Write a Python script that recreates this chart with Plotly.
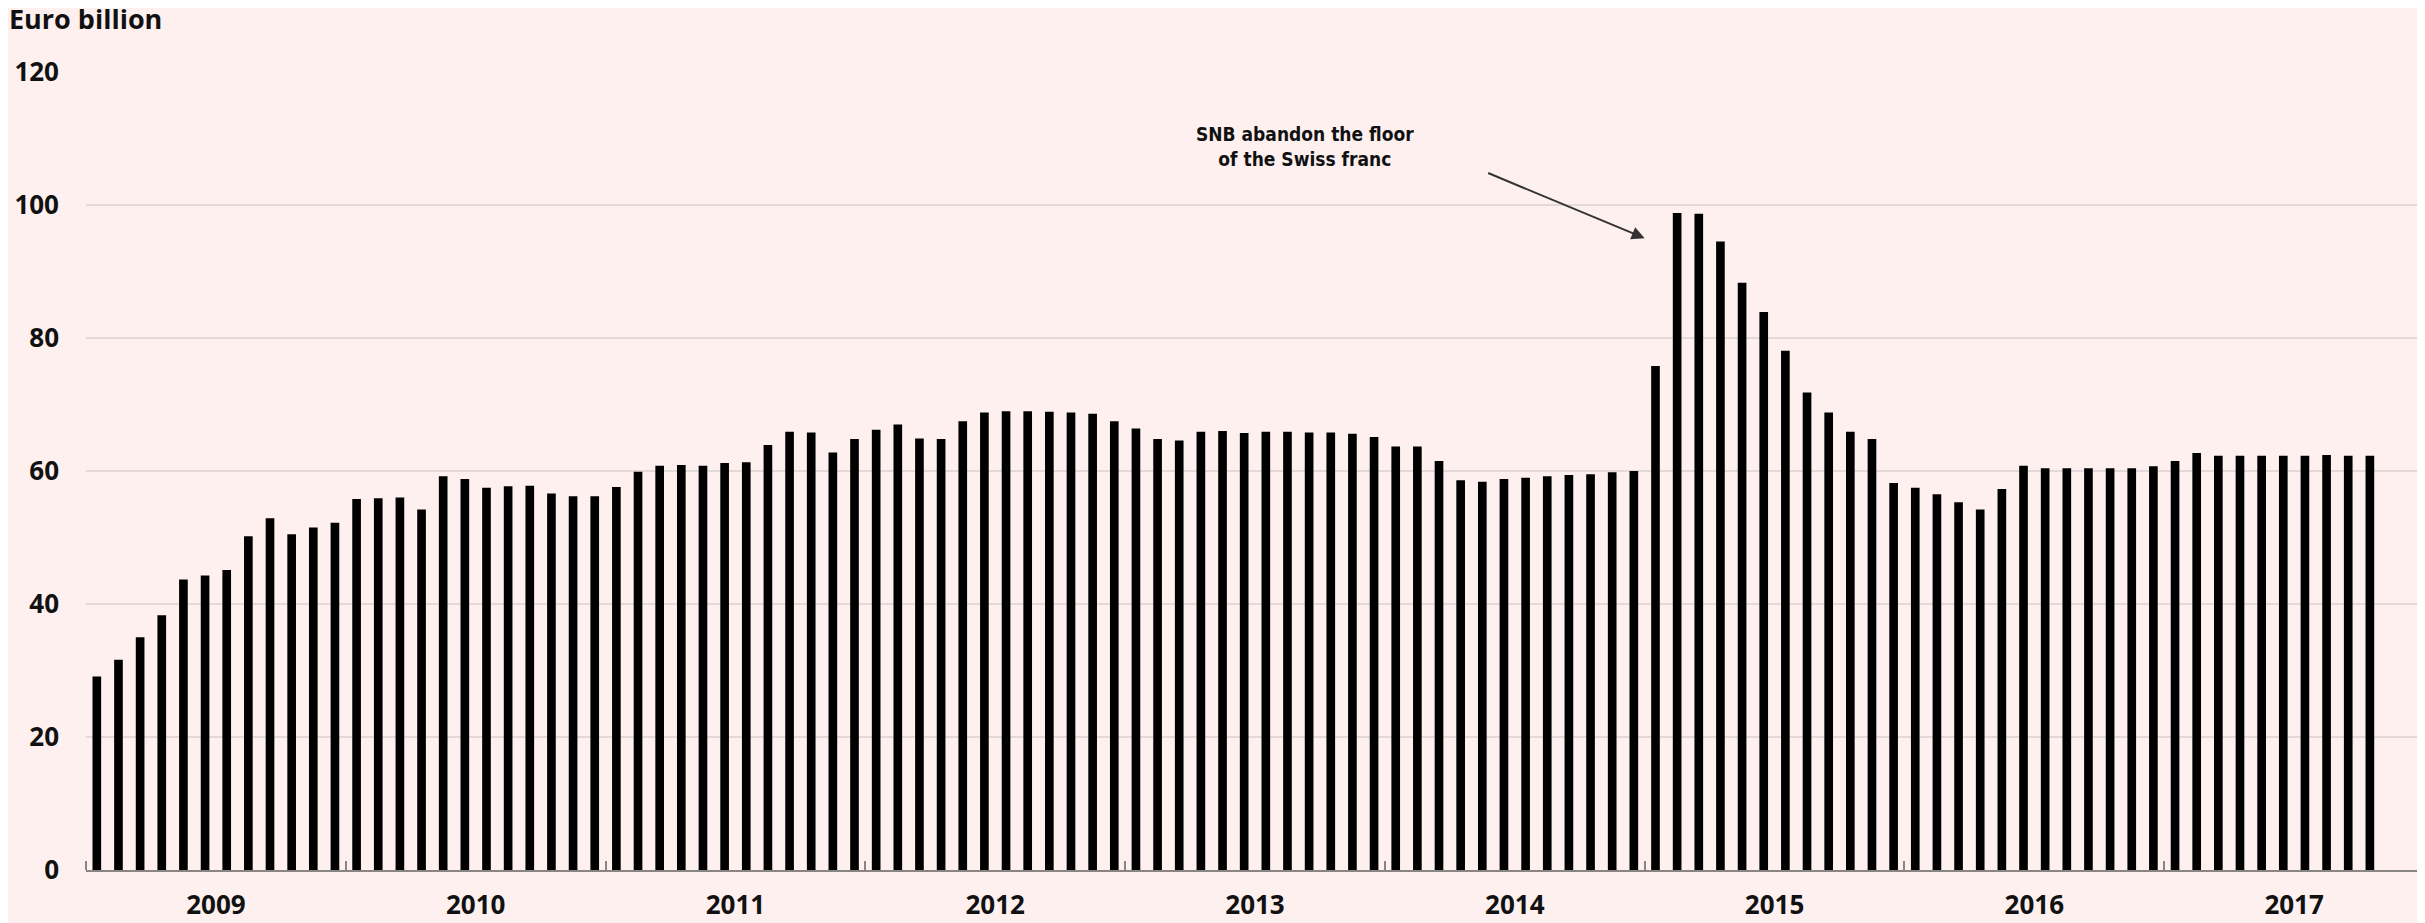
import plotly.graph_objects as go
import numpy as np

# Monthly data, Jan 2009 - Oct 2017 (Euro billion)
months = [f"{y}-{m:02d}" for y in range(2009, 2018) for m in range(1, 13)][:106]
values = [
    29.1, 31.6, 35.0, 38.3, 43.7, 44.3, 45.1, 50.2, 52.9, 50.5, 51.5, 52.2,   # 2009
    55.8, 55.9, 56.0, 54.2, 59.2, 58.8, 57.5, 57.7, 57.8, 56.6, 56.2, 56.2,   # 2010
    57.6, 59.9, 60.8, 60.9, 60.8, 61.2, 61.3, 63.9, 65.9, 65.8, 62.8, 64.8,   # 2011
    66.2, 67.0, 64.9, 64.8, 67.5, 68.8, 69.0, 69.0, 68.9, 68.8, 68.6, 67.5,   # 2012
    66.4, 64.8, 64.6, 65.9, 66.0, 65.7, 65.9, 65.9, 65.8, 65.8, 65.6, 65.1,   # 2013
    63.7, 63.7, 61.5, 58.6, 58.4, 58.8, 59.0, 59.2, 59.4, 59.5, 59.8, 60.0,   # 2014
    75.8, 98.8, 98.7, 94.5, 88.3, 83.9, 78.1, 71.8, 68.8, 65.9, 64.8, 58.2,   # 2015
    57.5, 56.5, 55.3, 54.2, 57.3, 60.8, 60.4, 60.4, 60.4, 60.4, 60.4, 60.7,   # 2016
    61.5, 62.7, 62.3, 62.3, 62.3, 62.3, 62.3, 62.4, 62.3, 62.3,               # 2017
]
years = [str(y) for y in range(2009, 2018)]
y_ticks = [0, 20, 40, 60, 80, 100, 120]

x = np.arange(len(months))
n_years = len(years)
year_centers = [12 * k + 5.5 for k in range(n_years)]
year_bounds = [12 * k - 0.5 for k in range(n_years + 1)]

bg = "#fdf0ef"
font_main = "'Open Sans', Lato, sans-serif"
W, H = 2417, 915  # page body has an 8px margin

fig = go.Figure()
fig.add_trace(go.Bar(
    x=x, y=values, customdata=months,
    marker=dict(color="#000000", line=dict(width=0)),
    hovertemplate="%{customdata}: %{y}<extra></extra>",
))

fig.update_layout(
    width=W, height=H,
    paper_bgcolor=bg, plot_bgcolor=bg,
    margin=dict(l=78, r=1, t=64, b=53),
    bargap=0.6,
    showlegend=False,
    font=dict(family=font_main, size=26, color="#111111"),
    title=dict(
        text="<b>Euro billion</b>",
        font=dict(family=font_main, size=27, color="#111111"),
        xref="container", yref="container",
        x=1 / W, xanchor="left",
        y=1 - 2 / H, yanchor="top",
    ),
)

fig.update_xaxes(
    range=[-0.5, 12 * n_years - 0.5],
    tickmode="array", tickvals=year_centers,
    ticktext=[f"<b>{y}</b>" for y in years],
    ticks="", showgrid=False, zeroline=False,
    showline=True, linecolor="#8a8585", linewidth=1.5,
    ticklabelstandoff=11,
    tickfont=dict(family=font_main, size=26, color="#111111"),
    minor=dict(tickmode="array", tickvals=year_bounds, ticks="inside",
               ticklen=9, tickcolor="#8a8585", tickwidth=1.5, showgrid=False),
)

fig.update_yaxes(
    range=[0, 120],
    tickmode="array", tickvals=y_ticks,
    ticktext=[f"<b>{v}</b>" for v in y_ticks],
    showgrid=True, gridcolor="#e3d9d9", gridwidth=1.5,
    zeroline=False, showline=False, ticks="",
    ticklabelstandoff=26,
    tickfont=dict(family=font_main, size=26, color="#111111"),
)

note_font = "'Liberation Sans Narrow', 'DejaVu Sans Condensed', 'Arial Narrow', sans-serif"
fig.add_annotation(
    x=71.5, y=95.0, ax=64.2, ay=104.9,
    xref="x", yref="y", axref="x", ayref="y",
    text="", showarrow=True,
    arrowhead=2, arrowsize=1.3, arrowwidth=2, arrowcolor="#333333",
)
fig.add_annotation(
    x=55.8, y=108.8, xref="x", yref="y",
    text="<b>SNB abandon the floor<br>of the Swiss franc</b>",
    showarrow=False, align="center",
    font=dict(family=note_font, size=19, color="#111111"),
)

fig.write_html("out.html")
